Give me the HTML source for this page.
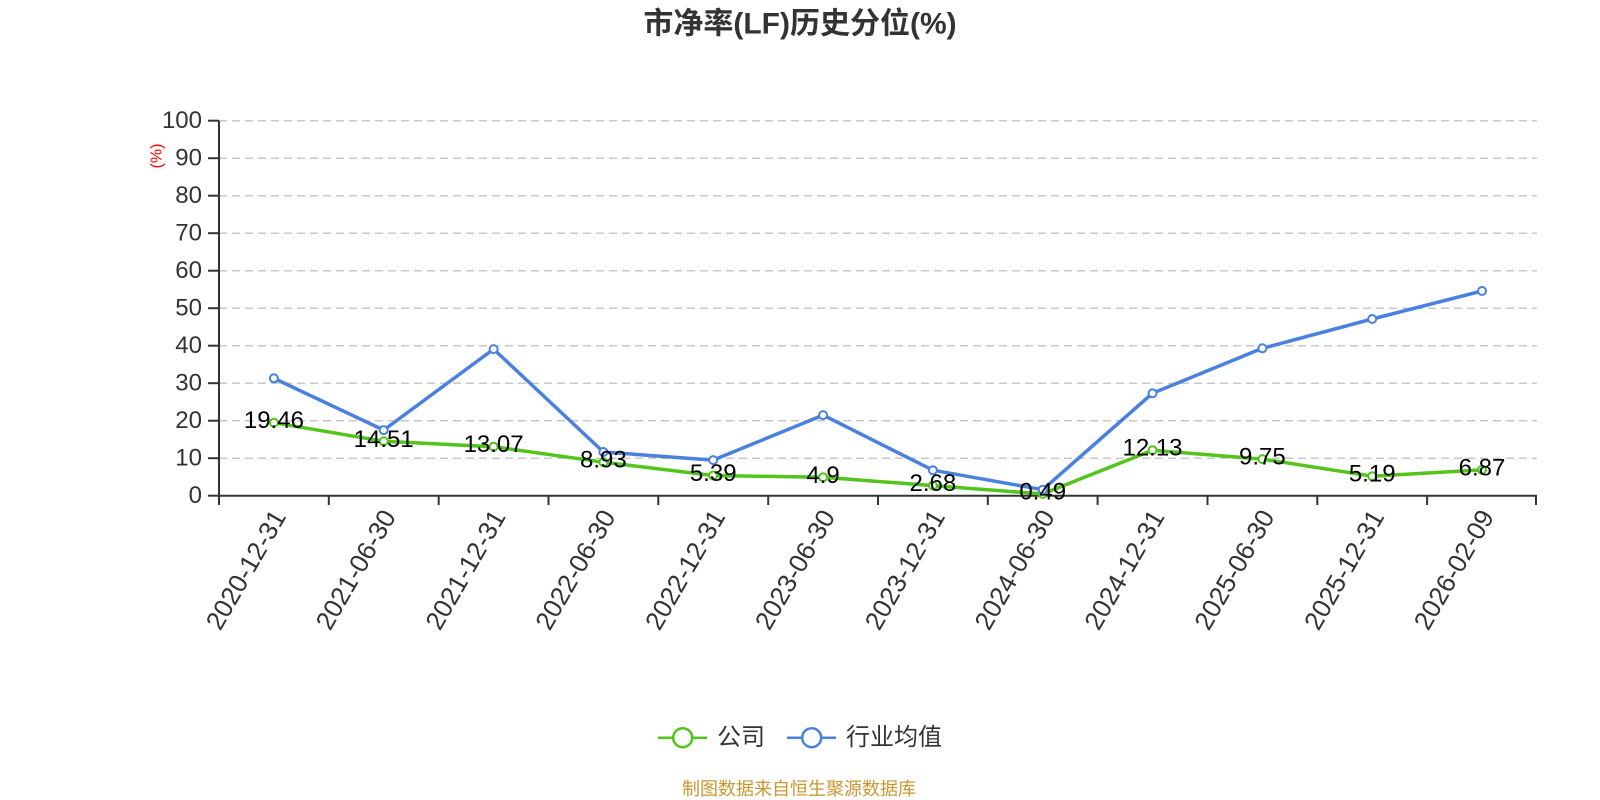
<!DOCTYPE html>
<html><head><meta charset="utf-8">
<style>
html,body{margin:0;padding:0;background:#fff;}
svg{display:block;}
text{font-family:"Liberation Sans","Noto Sans CJK SC",sans-serif;}
</style></head>
<body>
<svg width="1600" height="800" viewBox="0 0 1600 800" xmlns="http://www.w3.org/2000/svg">
<rect width="1600" height="800" fill="#fff"/>
<text x="800" y="24" text-anchor="middle" dominant-baseline="central" font-size="30" font-weight="bold" fill="#333">市净率(LF)历史分位(%)</text>

<!-- gridlines -->
<g stroke="#c8c8c8" stroke-width="1.5" stroke-dasharray="8,5">
<line x1="219" y1="120.7" x2="1537" y2="120.7"/>
<line x1="219" y1="158.2" x2="1537" y2="158.2"/>
<line x1="219" y1="195.7" x2="1537" y2="195.7"/>
<line x1="219" y1="233.2" x2="1537" y2="233.2"/>
<line x1="219" y1="270.7" x2="1537" y2="270.7"/>
<line x1="219" y1="308.2" x2="1537" y2="308.2"/>
<line x1="219" y1="345.7" x2="1537" y2="345.7"/>
<line x1="219" y1="383.2" x2="1537" y2="383.2"/>
<line x1="219" y1="420.7" x2="1537" y2="420.7"/>
<line x1="219" y1="458.2" x2="1537" y2="458.2"/>
</g>

<!-- y axis -->
<g stroke="#333" stroke-width="2">
<line x1="219" y1="120.7" x2="219" y2="495.7"/>
<line x1="208" y1="120.7" x2="219" y2="120.7"/>
<line x1="208" y1="158.2" x2="219" y2="158.2"/>
<line x1="208" y1="195.7" x2="219" y2="195.7"/>
<line x1="208" y1="233.2" x2="219" y2="233.2"/>
<line x1="208" y1="270.7" x2="219" y2="270.7"/>
<line x1="208" y1="308.2" x2="219" y2="308.2"/>
<line x1="208" y1="345.7" x2="219" y2="345.7"/>
<line x1="208" y1="383.2" x2="219" y2="383.2"/>
<line x1="208" y1="420.7" x2="219" y2="420.7"/>
<line x1="208" y1="458.2" x2="219" y2="458.2"/>
<line x1="208" y1="495.7" x2="219" y2="495.7"/>
</g>
<g font-size="24" fill="#333" text-anchor="end" dominant-baseline="central">
<text x="202" y="120.7">100</text>
<text x="202" y="158.2">90</text>
<text x="202" y="195.7">80</text>
<text x="202" y="233.2">70</text>
<text x="202" y="270.7">60</text>
<text x="202" y="308.2">50</text>
<text x="202" y="345.7">40</text>
<text x="202" y="383.2">30</text>
<text x="202" y="420.7">20</text>
<text x="202" y="458.2">10</text>
<text x="202" y="495.7">0</text>
</g>
<text x="157" y="156" font-size="16" fill="#ff0000" text-anchor="middle" dominant-baseline="central" transform="rotate(-90 157 156)">(%)</text>

<!-- x axis -->
<g stroke="#333" stroke-width="2">
<line x1="218" y1="495.7" x2="1537" y2="495.7"/>
<line x1="219" y1="495.7" x2="219" y2="505"/>
<line x1="328.8" y1="495.7" x2="328.8" y2="505"/>
<line x1="438.7" y1="495.7" x2="438.7" y2="505"/>
<line x1="548.5" y1="495.7" x2="548.5" y2="505"/>
<line x1="658.3" y1="495.7" x2="658.3" y2="505"/>
<line x1="768.2" y1="495.7" x2="768.2" y2="505"/>
<line x1="878" y1="495.7" x2="878" y2="505"/>
<line x1="987.8" y1="495.7" x2="987.8" y2="505"/>
<line x1="1097.6" y1="495.7" x2="1097.6" y2="505"/>
<line x1="1207.5" y1="495.7" x2="1207.5" y2="505"/>
<line x1="1317.3" y1="495.7" x2="1317.3" y2="505"/>
<line x1="1427.1" y1="495.7" x2="1427.1" y2="505"/>
<line x1="1536" y1="495.7" x2="1536" y2="505"/>
</g>
<g font-size="26" fill="#333" text-anchor="end" dominant-baseline="central">
<text x="279" y="512" transform="rotate(-60 279 512)">2020-12-31</text>
<text x="388.8" y="512" transform="rotate(-60 388.8 512)">2021-06-30</text>
<text x="498.6" y="512" transform="rotate(-60 498.6 512)">2021-12-31</text>
<text x="608.4" y="512" transform="rotate(-60 608.4 512)">2022-06-30</text>
<text x="718.2" y="512" transform="rotate(-60 718.2 512)">2022-12-31</text>
<text x="828.1" y="512" transform="rotate(-60 828.1 512)">2023-06-30</text>
<text x="937.9" y="512" transform="rotate(-60 937.9 512)">2023-12-31</text>
<text x="1047.7" y="512" transform="rotate(-60 1047.7 512)">2024-06-30</text>
<text x="1157.5" y="512" transform="rotate(-60 1157.5 512)">2024-12-31</text>
<text x="1267.4" y="512" transform="rotate(-60 1267.4 512)">2025-06-30</text>
<text x="1377.2" y="512" transform="rotate(-60 1377.2 512)">2025-12-31</text>
<text x="1487" y="512" transform="rotate(-60 1487 512)">2026-02-09</text>
</g>

<!-- green series: company -->
<polyline fill="none" stroke="#52c41a" stroke-width="3.5" stroke-linejoin="round"
points="273.9,422.7 383.7,441.3 493.6,446.7 603.4,462.2 713.2,475.5 823.1,477.3 932.9,485.6 1042.7,493.9 1152.5,450.2 1262.4,459.1 1372.2,476.2 1482,469.9"/>
<!-- blue series: industry -->
<polyline fill="none" stroke="#4a80e0" stroke-width="3.5" stroke-linejoin="round"
points="273.9,378.3 383.7,430.1 493.6,349.1 603.4,452 713.2,460.1 823.1,415.1 932.9,470.2 1042.7,489.7 1152.5,393.3 1262.4,348.3 1372.2,319 1482,291"/>

<g fill="#fff" stroke="#52c41a" stroke-width="2">
<circle cx="273.9" cy="422.7" r="4"/>
<circle cx="383.7" cy="441.3" r="4"/>
<circle cx="493.6" cy="446.7" r="4"/>
<circle cx="603.4" cy="462.2" r="4"/>
<circle cx="713.2" cy="475.5" r="4"/>
<circle cx="823.1" cy="477.3" r="4"/>
<circle cx="932.9" cy="485.6" r="4"/>
<circle cx="1042.7" cy="493.9" r="4"/>
<circle cx="1152.5" cy="450.2" r="4"/>
<circle cx="1262.4" cy="459.1" r="4"/>
<circle cx="1372.2" cy="476.2" r="4"/>
<circle cx="1482" cy="469.9" r="4"/>
</g>
<g fill="#fff" stroke="#4a80e0" stroke-width="2">
<circle cx="273.9" cy="378.3" r="4"/>
<circle cx="383.7" cy="430.1" r="4"/>
<circle cx="493.6" cy="349.1" r="4"/>
<circle cx="603.4" cy="452" r="4"/>
<circle cx="713.2" cy="460.1" r="4"/>
<circle cx="823.1" cy="415.1" r="4"/>
<circle cx="932.9" cy="470.2" r="4"/>
<circle cx="1042.7" cy="489.7" r="4"/>
<circle cx="1152.5" cy="393.3" r="4"/>
<circle cx="1262.4" cy="348.3" r="4"/>
<circle cx="1372.2" cy="319" r="4"/>
<circle cx="1482" cy="291" r="4"/>
</g>

<g font-size="24" fill="#000" text-anchor="middle" dominant-baseline="central">
<text x="273.9" y="420.7">19.46</text>
<text x="383.7" y="439.3">14.51</text>
<text x="493.6" y="444.7">13.07</text>
<text x="603.4" y="460.2">8.93</text>
<text x="713.2" y="473.5">5.39</text>
<text x="823.1" y="475.3">4.9</text>
<text x="932.9" y="483.6">2.68</text>
<text x="1042.7" y="491.9">0.49</text>
<text x="1152.5" y="448.2">12.13</text>
<text x="1262.4" y="457.1">9.75</text>
<text x="1372.2" y="474.2">5.19</text>
<text x="1482" y="467.9">6.87</text>
</g>

<!-- legend -->
<line x1="658" y1="737.7" x2="707" y2="737.7" stroke="#52c41a" stroke-width="2.5"/>
<circle cx="682.7" cy="737.7" r="9.5" fill="#fff" stroke="#52c41a" stroke-width="2.5"/>
<text x="717" y="737.7" font-size="24" fill="#333" dominant-baseline="central">公司</text>
<line x1="787" y1="737.7" x2="836" y2="737.7" stroke="#4a80e0" stroke-width="2.5"/>
<circle cx="811.7" cy="737.7" r="9.5" fill="#fff" stroke="#4a80e0" stroke-width="2.5"/>
<text x="846" y="737.7" font-size="24" fill="#333" dominant-baseline="central">行业均值</text>

<text x="799" y="789" font-size="18" fill="#c9972f" text-anchor="middle" dominant-baseline="central">制图数据来自恒生聚源数据库</text>
</svg>
</body></html>
